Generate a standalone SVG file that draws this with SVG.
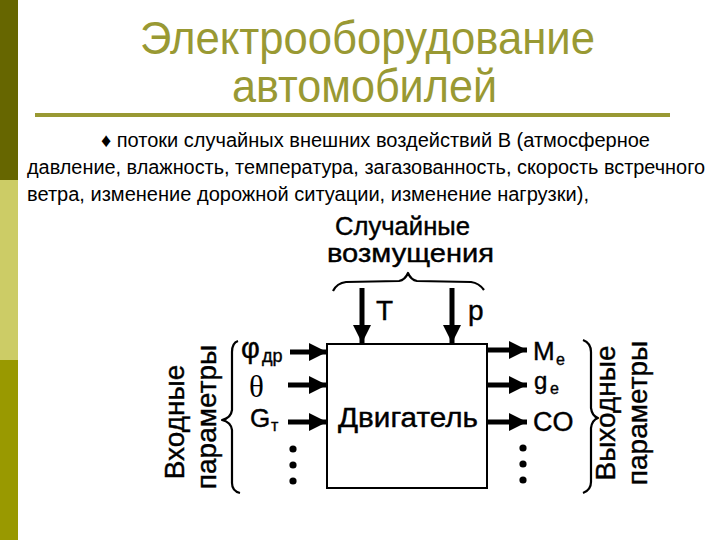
<svg xmlns="http://www.w3.org/2000/svg" width="720" height="540" viewBox="0 0 720 540">
<style>
.title{font-family:"Liberation Sans",Arial,sans-serif;font-size:47px;fill:#999933}
.body{font-family:"Liberation Sans",Arial,sans-serif;font-size:19.5px;fill:#000}
.dg{font-family:"Liberation Sans",Arial,sans-serif;fill:#000;stroke:#000;stroke-width:0.4}
.ln{stroke:#000;stroke-width:5;fill:none}
.br{stroke:#000;stroke-width:2.2;fill:none;stroke-linejoin:round}
</style>
<defs>
<marker id="ah" viewBox="0 0 10 10" refX="10" refY="5" markerWidth="4.4" markerHeight="3.6" markerUnits="strokeWidth" orient="auto">
<path d="M0,0 L10,5 L0,10 Z" fill="#000"/>
</marker>
</defs>
<rect width="720" height="540" fill="#fff"/>
<g id="sidebar">
<rect x="0" y="0" width="18" height="180" fill="#666600"/>
<rect x="0" y="180" width="18" height="180" fill="#cccc66"/>
<rect x="0" y="360" width="18" height="180" fill="#999900"/>
</g>
<g id="title">
<text class="title" x="140" y="54" textLength="455" lengthAdjust="spacingAndGlyphs">Электрооборудование</text>
<text class="title" x="232" y="102" textLength="265" lengthAdjust="spacingAndGlyphs">автомобилей</text>
<rect x="35" y="113" width="635" height="4" fill="#999933"/>
</g>
<g id="body">
<text class="body" x="101" y="147" textLength="549" lengthAdjust="spacingAndGlyphs">♦ потоки случайных внешних воздействий В (атмосферное</text>
<text class="body" x="27" y="174" textLength="678" lengthAdjust="spacingAndGlyphs">давление, влажность, температура, загазованность, скорость встречного</text>
<text class="body" x="27" y="201" textLength="562" lengthAdjust="spacingAndGlyphs">ветра, изменение дорожной ситуации, изменение нагрузки),</text>
</g>
<g id="disturbances">
<text class="dg" x="335" y="235" font-size="25" textLength="135" lengthAdjust="spacingAndGlyphs">Случайные</text>
<text class="dg" x="327" y="262" font-size="26" textLength="167" lengthAdjust="spacingAndGlyphs">возмущения</text>
<path class="br" d="M333,291 Q337,283 346,282 L399,281 Q405,280 408,273 Q411,280 417,281 L471,282 Q479,283 484,290"/>
<text class="dg" x="376" y="320" font-size="28">T</text>
<text class="dg" x="468" y="320" font-size="28">p</text>
</g>
<g id="engine">
<rect x="327" y="344" width="160" height="144" fill="none" stroke="#000" stroke-width="2"/>
<text class="dg" x="338" y="427" font-size="27" textLength="140" lengthAdjust="spacingAndGlyphs">Двигатель</text>
</g>
<g id="inputs">
<text class="dg" x="241" y="358" font-size="29">φ</text>
<text class="dg" x="262" y="362" font-size="18">др</text>
<text x="249" y="397" font-family="Liberation Serif,serif" font-size="31" fill="#000">θ</text>
<text class="dg" x="250" y="427" font-size="26">G</text>
<text class="dg" x="271" y="431" font-size="16">т</text>
<circle cx="293" cy="449" r="3.6"/>
<circle cx="293" cy="465" r="3.6"/>
<circle cx="293" cy="481" r="3.6"/>
<path class="br" d="M238,341 Q232,343 232,352 L232,410 Q231,418 222,420 Q231,422 232,430 L232,483 Q232,491 240,493"/>
<text class="dg" transform="translate(184,422) rotate(-90)" font-size="28" text-anchor="middle">Входные</text>
<text class="dg" transform="translate(216,417) rotate(-90)" font-size="28" text-anchor="middle">параметры</text>
</g>
<g id="outputs">
<text class="dg" x="533" y="360" font-size="26">M</text>
<text class="dg" x="556" y="365" font-size="16">e</text>
<text class="dg" x="534" y="389" font-size="24">g</text>
<text class="dg" x="550" y="394" font-size="16">e</text>
<text class="dg" x="533" y="431" font-size="27">CO</text>
<circle cx="523" cy="448" r="3.6"/>
<circle cx="523" cy="464" r="3.6"/>
<circle cx="523" cy="480" r="3.6"/>
<path class="br" d="M583,340 Q591,343 591,352 L591,408 Q592,416 598,418 Q592,420 591,428 L591,482 Q591,490 583,493"/>
<text class="dg" transform="translate(615,413) rotate(-90)" font-size="28" text-anchor="middle">Выходные</text>
<text class="dg" transform="translate(647,413) rotate(-90)" font-size="28" text-anchor="middle">параметры</text>
</g>
<g id="connectors">
<line class="ln" x1="362" y1="288" x2="362" y2="343" marker-end="url(#ah)"/>
<line class="ln" x1="452" y1="288" x2="452" y2="343" marker-end="url(#ah)"/>
<line class="ln" x1="290" y1="352" x2="327" y2="352" marker-end="url(#ah)"/>
<line class="ln" x1="288" y1="385" x2="327" y2="385" marker-end="url(#ah)"/>
<line class="ln" x1="288" y1="422" x2="327" y2="422" marker-end="url(#ah)"/>
<line class="ln" x1="487" y1="350" x2="527" y2="350" marker-end="url(#ah)"/>
<line class="ln" x1="487" y1="385" x2="527" y2="385" marker-end="url(#ah)"/>
<line class="ln" x1="487" y1="422" x2="527" y2="422" marker-end="url(#ah)"/>
</g>
</svg>
